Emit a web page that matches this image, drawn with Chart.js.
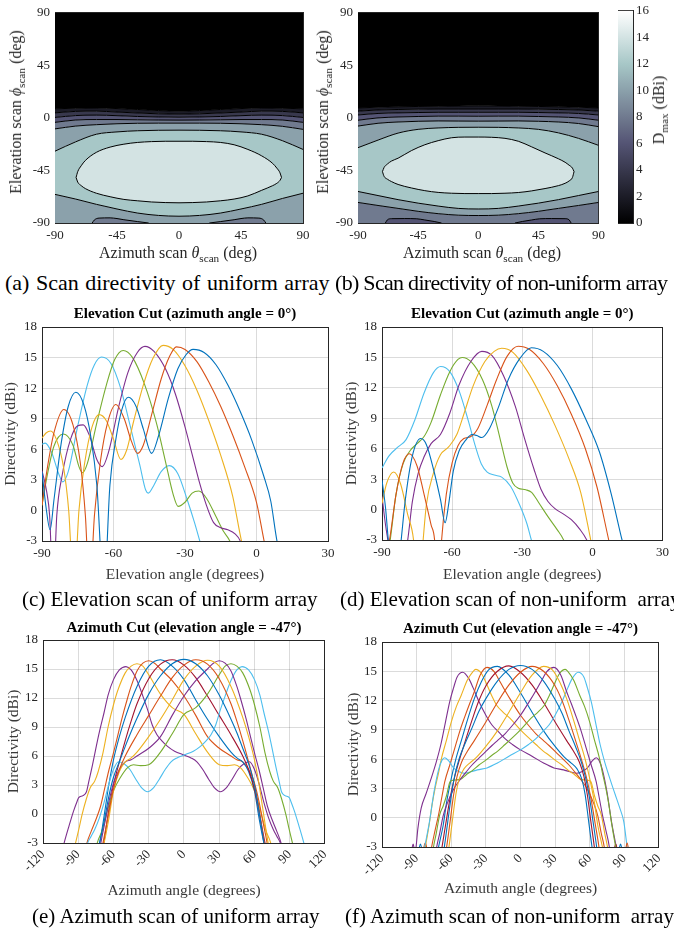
<!DOCTYPE html>
<html><head><meta charset="utf-8">
<script src="https://cdn.jsdelivr.net/npm/chart.js@4.4.1/dist/chart.umd.min.js"></script>
<style>
html,body{margin:0;padding:0;background:#fff;}
#page{position:relative;width:674px;height:933px;overflow:hidden;font-family:'Liberation Serif','Times New Roman',serif;color:#000;}
canvas{position:absolute;}
.t{position:absolute;white-space:pre;line-height:1;}
.rot{transform:translate(-50%,-50%) rotate(-90deg);}
.ctr{transform:translate(-50%,-50%);}
.ax{font-size:16px;color:#262626;}
sub{font-size:70%;vertical-align:-0.35em;line-height:0;}
</style></head><body><div id="page">
<canvas id="ca" width="340" height="270" style="left:0;top:0"></canvas>
<canvas id="cb" width="310" height="270" style="left:300px;top:0"></canvas>
<canvas id="cbar" width="64" height="270" style="left:610px;top:0"></canvas>
<canvas id="cc" width="340" height="290" style="left:0;top:300px"></canvas>
<canvas id="cd" width="334" height="290" style="left:340px;top:300px"></canvas>
<canvas id="ce" width="340" height="300" style="left:0;top:615px"></canvas>
<canvas id="cf" width="334" height="300" style="left:340px;top:615px"></canvas>

<div class="t ax rot" style="left:16px;top:112px">Elevation scan <i>ϕ</i><sub>scan</sub> (deg)</div>
<div class="t ax ctr" style="left:178px;top:253px">Azimuth scan <i>θ</i><sub>scan</sub> (deg)</div>
<div class="t ax rot" style="left:323px;top:112px">Elevation scan <i>ϕ</i><sub>scan</sub> (deg)</div>
<div class="t ax ctr" style="left:482px;top:253px">Azimuth scan <i>θ</i><sub>scan</sub> (deg)</div>
<div class="t ax rot" style="left:659px;top:110px">D<sub>max</sub> (dBi)</div>

<div class="t" style="left:5px;top:272px;font-size:22px;word-spacing:1px">(a) Scan directivity of uniform array</div>
<div class="t" style="left:335px;top:272px;font-size:22px;letter-spacing:-0.7px">(b) Scan directivity of non-uniform array</div>
<div class="t" style="left:22px;top:589px;font-size:21px">(c) Elevation scan of uniform array</div>
<div class="t" style="left:340px;top:589px;font-size:21px">(d) Elevation scan of non-uniform  array</div>
<div class="t" style="left:32px;top:906px;font-size:21px">(e) Azimuth scan of uniform array</div>
<div class="t" style="left:345px;top:906px;font-size:21px">(f) Azimuth scan of non-uniform  array</div>
</div>
<script>
// ---------- contour data (panels a, b): level boundaries in elevation (deg) at each azimuth ----------
const contourAz = [-90,-75,-60,-45,-30,-15,0,15,30,45,60,75,90];
const aUp2  = [7.8, 8.3, 8.5, 8.0, 7.2, 6.3, 5.8, 6.3, 7.2, 8.0, 8.5, 8.3, 7.8];
const aUp4  = [4.3, 5.6, 5.8, 5.0, 4.2, 3.5, 3.2, 3.5, 4.2, 5.0, 5.8, 5.6, 4.3];
const aUp6  = [0.4, 2.0, 2.4, 1.9, 1.2, 0.8, 0.6, 0.8, 1.2, 1.9, 2.4, 2.0, 0.4];
const aUp8  = [-3.8, -1.8, -1.4, -1.4, -1.6, -1.8, -1.9, -1.8, -1.6, -1.4, -1.4, -1.8, -3.8];
const aUp10 = [-9.4, -7.0, -5.8, -5.0, -4.6, -4.5, -4.5, -4.5, -4.6, -5.0, -5.8, -7.2, -9.8];
const aUp12 = [-28.5, -20.5, -14.0, -12.0, -11.0, -10.6, -10.5, -10.6, -11.0, -12.0, -14.0, -19.5, -27.0];
const aLow12 = [-65.5, -69.5, -74, -78, -81.5, -83.5, -84.2, -83.5, -81.5, -78, -74, -69, -64.5];
const aEllAz  = [-74.7,-73.5,-71,-68,-60,-50,-40,-30,-20,-10,0,10,20,30,40,50,60,68,71,73.3,74.4];
const aEllTop = [-51,-46,-41,-36.5,-29.5,-25,-22.5,-21,-20.3,-20,-20,-20,-20.3,-21,-23,-27,-32.5,-39,-43,-47,-51];
const aEllBot = [-51,-55,-58,-60.5,-64.5,-67.5,-69.8,-71,-72,-72.5,-72.7,-72.5,-72,-71,-69.5,-66.8,-62,-58,-56,-53.5,-51];
const aBumpL = [[-63,-90],[-61.5,-87.5],[-58,-85.8],[-50,-85.6],[-45,-86.2],[-40,-87.2],[-30,-88.8],[-22,-90]];
const aBumpR = [[22,-90],[30,-88.8],[40,-87.2],[45,-86.2],[50,-85.6],[58,-85.8],[61.5,-87.5],[63,-90]];

const bUp2  = [8.5, 9.2, 9.5, 9.8, 10.0, 10.2, 10.3, 10.2, 10.0, 9.8, 9.5, 9.2, 8.5];
const bUp4  = [5.8, 6.8, 7.2, 7.5, 7.6, 7.6, 7.6, 7.6, 7.6, 7.5, 7.2, 6.8, 5.8];
const bUp6  = [2.5, 3.8, 4.3, 4.6, 4.8, 4.8, 4.8, 4.8, 4.8, 4.6, 4.3, 3.8, 2.5];
const bUp8  = [-2.0, 0.0, 0.8, 1.2, 1.5, 1.5, 1.4, 1.5, 1.5, 1.2, 0.8, 0.0, -2.0];
const bUp10 = [-7.0, -4.6, -3.5, -2.9, -2.6, -2.7, -2.8, -2.7, -2.6, -2.9, -3.5, -4.8, -7.5];
const bUp12 = [-25.5, -19, -13, -9.8, -8.6, -8.1, -8.0, -8.1, -8.6, -9.8, -12.8, -17.5, -23.5];
const bLow12 = [-63, -66.5, -70, -73, -75.5, -77.5, -78, -77.5, -75.5, -73, -70, -66.5, -63];
const bLow10 = [-72.4, -75, -77.5, -80, -82, -83.3, -83.6, -83.3, -82, -80, -77.5, -75, -72.4];
const bEllAz  = [-71.7,-70.5,-68,-65,-60,-50,-40,-30,-20,-10,0,10,20,30,40,50,60,65,68,70.5,71.7];
const bEllTop = [-46,-42.5,-39.5,-37,-34.5,-28,-23,-19.5,-17,-16.4,-16.4,-16.6,-17.5,-20,-24.8,-30,-35,-38,-40.5,-43,-46];
const bEllBot = [-46,-50,-52.5,-54.5,-57,-60,-62.3,-63.8,-64.5,-64.8,-64.8,-64.8,-64.5,-63.9,-62.5,-60.5,-58,-56,-54,-51,-46];
const bBumpL = [[-69.5,-90],[-68,-87.3],[-65,-86.3],[-55,-86.2],[-46,-86.4],[-40,-87.4],[-33,-88.7],[-27.5,-90]];
const bBumpR = [[27.5,-90],[33,-88.7],[40,-87.4],[46,-86.4],[55,-86.2],[65,-86.3],[68,-87.3],[69.5,-90]];
const cbarRange = [0, 16];

// ---------- elevation cuts (c, d): [elevation deg, directivity dBi] ----------
const cBlue = [[-90,3.8],[-88.3,0.3],[-86.6,-1.9],[-85,1.0],[-82,6.5],[-79,10.2],[-75.8,11.6],[-72.5,10.4],[-69.5,7.2],[-67,2.5],[-64,-8],[-61.5,2.5],[-59,7.0],[-56.5,9.9],[-53.8,11.1],[-50.5,10.2],[-47.5,8.0],[-44,5.6],[-41,7.4],[-37,11.0],[-33,13.9],[-29.5,15.3],[-26.6,15.8],[-22,15.5],[-17,14.3],[-12,12.3],[-7,9.8],[-2,6.9],[3,3.4],[6,0.9],[8.6,-3],[11,-5]];
const cOrange = [[-90,0.5],[-88,3.8],[-85,7.6],[-80.8,9.9],[-77,8.4],[-74,4.8],[-71.8,-0.5],[-70,-8],[-68,-0.5],[-65.5,4.8],[-62.5,8.6],[-59,10.4],[-55.5,9.0],[-52.5,6.8],[-49.9,5.6],[-47.5,6.4],[-44,9.4],[-40,12.9],[-36.5,15.1],[-33.6,16.05],[-30,15.8],[-25,14.6],[-20,12.6],[-15,10.2],[-10,7.4],[-5,4.3],[0,0.8],[3.2,-3],[5,-5]];
const cYellow = [[-90,7.1],[-88.3,7.6],[-86.4,7.8],[-84,7.0],[-81,4.3],[-78.8,0],[-76.6,-8],[-74.5,0],[-72,4.8],[-69,8.2],[-66,9.4],[-63,8.8],[-60,7.0],[-56.9,5.0],[-54.5,5.9],[-51.5,8.8],[-47.5,12.3],[-43.5,14.9],[-39.2,16.2],[-35,15.8],[-30,14.2],[-25,11.8],[-20,8.8],[-15,5.4],[-10,1.4],[-6.3,-3],[-4,-5]];
const cPurple = [[-90,3.9],[-88,1.8],[-86.8,-0.5],[-85.3,-8],[-83.8,-0.5],[-81.5,3.5],[-78,7.0],[-75,8.3],[-72.7,8.4],[-70,7.3],[-67,5.0],[-64.7,4.3],[-62,5.8],[-58,10.0],[-54,13.5],[-50,15.5],[-46.8,16.1],[-43,15.6],[-38,13.8],[-34,11.4],[-30,8.2],[-27,5.5],[-24,2.8],[-21,0.5],[-18,-1.2],[-15,-1.7],[-12,-1.9],[-9,-2.3],[-6.8,-3],[-5,-4.5]];
const cGreen = [[-90,0.5],[-88,3.2],[-85,6.3],[-81,7.5],[-77,6.4],[-74.5,4.3],[-73,3.7],[-71,4.6],[-67,8.6],[-63,12.3],[-59.5,14.8],[-55.9,15.7],[-52,15.0],[-47,12.4],[-42,8.6],[-38,4.6],[-35,1.6],[-32.9,0.4],[-30,0.8],[-27,1.7],[-24.2,1.9],[-21,1.2],[-17,-0.6],[-14,-2.0],[-11.2,-3],[-9,-4.5]];
const cCyan = [[-90,6.5],[-88.7,6.6],[-86,5.7],[-83,3.6],[-81.3,2.8],[-79,3.8],[-75,8.3],[-71,12.3],[-68,14.3],[-65,15.05],[-61,14.4],[-57,12.0],[-53,8.3],[-49,4.5],[-46.5,2.0],[-45.4,1.7],[-43,2.5],[-40,3.8],[-36.6,4.4],[-33,3.6],[-29,1.0],[-26,-1.2],[-23.8,-3],[-22,-4.5]];

const dBlue = [[-90,2.9],[-88.5,0.2],[-87.3,-3],[-84.5,-9],[-81.8,-3],[-80,1.0],[-77,5.3],[-73.4,7.0],[-71,6.4],[-68,4.0],[-65,1.0],[-63,-1.3],[-61.5,0.5],[-59.5,3.8],[-57,5.8],[-54,6.9],[-51.5,7.4],[-49.5,7.3],[-47.3,7.1],[-44,8.0],[-40,10.2],[-36,12.8],[-31,14.9],[-26.1,15.95],[-21,15.6],[-15,14.2],[-9,11.9],[-3,9.0],[3,5.7],[8,1.6],[12.7,-3],[15,-5]];
const dOrange = [[-90,-6],[-86.8,-3],[-84,1.5],[-81,4.6],[-78.3,5.5],[-75,4.3],[-72,1.5],[-69,-1.5],[-67.5,-3],[-66,-9],[-64.5,-3],[-62.5,1.5],[-60,4.6],[-57.5,6.3],[-55,7.0],[-52,7.2],[-49,8.0],[-45,10.3],[-41,12.8],[-36.5,15.1],[-31.8,16.1],[-27,15.8],[-21,14.4],[-15,12.2],[-9,9.4],[-3,6.0],[2,2.2],[7,-3],[9,-5]];
const dYellow = [[-90,0.6],[-88,2.6],[-85,3.7],[-82,2.5],[-79,-0.5],[-76.5,-3],[-74.5,-9],[-72.4,-3],[-71,0.5],[-68,3.6],[-65,5.4],[-61.4,6.2],[-58,7.4],[-55,9.4],[-51,12.2],[-46,14.6],[-42,15.6],[-38.8,15.9],[-34,15.5],[-28,13.7],[-22,11.2],[-16,8.3],[-10,5.0],[-5,1.7],[-0.7,-3],[1,-5]];
const dPurple = [[-90,1.3],[-88.5,-1.5],[-87.5,-3],[-84,-9],[-79,-3],[-77,0.8],[-74.5,3.6],[-72,5.2],[-69,6.5],[-65,7.4],[-61,9.5],[-57,12.3],[-52,14.6],[-47.3,15.6],[-43,15.2],[-38,13.2],[-33,10.2],[-29,7.0],[-25,4.0],[-22,2.0],[-19,0.8],[-16,0.1],[-12,-0.5],[-9,-1.0],[-5.5,-1.9],[-2.4,-3],[0,-4.5]];
const dGreen = [[-88,-5],[-86.5,-3],[-84,1.5],[-81,4.5],[-78,5.8],[-75,6.5],[-72,7.2],[-69,8.6],[-65,11.3],[-61,13.6],[-57.5,14.8],[-55.7,15.0],[-52,14.6],[-47,12.8],[-43,10.2],[-39.5,7.0],[-36.5,4.2],[-34,2.6],[-31.7,2.1],[-28.5,1.95],[-26,1.7],[-23,0.7],[-19,-0.7],[-15,-2.0],[-12.3,-3],[-10,-4.5]];
const dCyan = [[-90,4.1],[-87,5.3],[-83,6.2],[-79.7,6.9],[-76,8.8],[-72,11.5],[-68,13.5],[-64.9,14.1],[-61,13.6],[-57,11.7],[-53,8.7],[-50,6.2],[-47.5,4.5],[-45,3.7],[-42,3.4],[-38.8,3.2],[-35,2.3],[-31,0.4],[-28,-1.4],[-26.1,-3],[-24,-4.5]];

// ---------- azimuth cuts (e, f): [azimuth deg, directivity dBi], one per scan angle ----------
const eP0 = [[-76,-5],[-72,-3],[-68,-0.8],[-64,1.8],[-60,3.8],[-55,5.4],[-50,7.0],[-45,8.5],[-40,9.9],[-30,12.4],[-20,14.3],[-10,15.55],[0,16.0],[10,15.55],[20,14.3],[30,12.3],[40,9.8],[45,8.4],[50,6.8],[55,5.2],[60,3.0],[64,0.2],[67,-2.2],[70,-4.5]];
const eP10 = [[-73,-5],[-69,-3],[-65,-0.5],[-60,2.6],[-55,4.6],[-50,6.0],[-40,8.2],[-30,10.2],[-20,12.2],[-10,14.1],[0,15.4],[10,15.95],[20,15.5],[30,14.0],[40,11.4],[45,9.6],[50,7.6],[55,5.4],[60,3.0],[64,0.4],[67,-2],[70,-4.5]];
const eP20 = [[-72,-5],[-68,-3],[-64,-0.5],[-60,2.4],[-55,4.4],[-50,5.4],[-45,5.8],[-40,6.4],[-30,8.0],[-20,9.8],[-10,11.8],[0,13.9],[10,15.3],[20,15.9],[30,15.3],[40,13.2],[50,10.0],[55,8.0],[60,5.6],[64,3.0],[67,0.6],[70,-1.8],[73,-4],[75,-5.5]];
const eP30 = [[-73,-4.5],[-70,-2.5],[-67,-0.7],[-64,1.2],[-60,3.2],[-55,4.6],[-50,5.4],[-45,5.6],[-40,6.0],[-30,6.8],[-20,8.0],[-10,10.2],[0,12.2],[10,13.8],[20,15.0],[25,15.6],[30,15.85],[35,15.6],[40,14.8],[45,13.2],[48,12.0],[53,9.8],[57,7.8],[60.5,6.1],[64,4.5],[67.4,2.7],[71,0.8],[75.7,-0.8],[79,-1.8],[82.6,-3],[86,-5]];
const eP40 = [[-76,-4.5],[-73.8,-3],[-70,-1.8],[-65,0.4],[-60,2.4],[-54,3.8],[-48,4.8],[-43,5.1],[-37,5.0],[-30,5.1],[-20,6.4],[-10,8.3],[0,10.3],[10,11.0],[20,12.4],[30,14.4],[35,15.3],[40,15.55],[45,15.3],[50,14.6],[56.3,12.8],[60,11.3],[64.6,9.0],[69,6.3],[73,4.4],[76,3.4],[79.9,2.7],[83,1.6],[86.8,-0.1],[89,-1.3],[92.3,-3],[96,-5]];
const eP50 = [[-85,-4.5],[-82,-3],[-79,-2.3],[-76,-1.6],[-72,-0.4],[-68,1.2],[-64,3.1],[-60,4.6],[-55.8,5.4],[-51,5.2],[-46,4.6],[-41,3.6],[-36,2.7],[-31,2.3],[-26,2.7],[-21,3.6],[-16,4.6],[-11,5.4],[-6,5.8],[0,6.1],[8,6.5],[14,7.0],[19,7.6],[23,8.2],[27,9.2],[31,10.8],[35,12.2],[40,13.8],[45,14.9],[49.4,15.25],[55,14.9],[60,13.9],[64.6,12.3],[68,10.5],[72,8.5],[75,6.8],[78,5.0],[81.3,3.2],[83,2.3],[86,1.9],[89.6,1.7],[91,1.3],[94,0.3],[98,-1.3],[102,-3],[106,-5]];
const eM10 = [[-70,-4.5],[-67,-2],[-64,0.4],[-60,3.0],[-55,5.4],[-50,7.6],[-45,9.6],[-40,11.4],[-30,14.0],[-20,15.5],[-10,15.95],[0,15.4],[10,14.1],[20,12.2],[30,10.2],[40,8.2],[50,6.0],[55,4.6],[60,2.6],[65,-0.5],[69,-3],[73,-5]];
const eM20 = [[-75,-5.5],[-73,-4],[-70,-1.8],[-67,0.6],[-64,3.0],[-60,5.6],[-55,8.0],[-50,10.0],[-40,13.2],[-30,15.3],[-20,15.95],[-10,15.3],[0,13.9],[10,11.8],[20,9.8],[30,8.0],[40,6.4],[45,5.8],[50,5.4],[55,4.4],[60,2.4],[64,-0.5],[68,-3],[72,-5]];
const eM30 = [[-86,-5],[-82.6,-3],[-79,-1.8],[-75.7,-0.8],[-71,0.8],[-67.4,2.7],[-64,4.5],[-60.5,6.1],[-57,7.8],[-53,9.8],[-48,12.0],[-45,13.2],[-40,14.8],[-35,15.6],[-30,15.85],[-25,15.6],[-20,15.0],[-10,13.8],[0,12.2],[10,10.2],[20,8.0],[30,6.8],[40,6.0],[45,5.6],[50,5.4],[55,4.6],[60,3.2],[64,1.2],[67,-0.7],[70,-2.5],[73,-4.5]];
const eM40 = [[-96,-5],[-92.3,-3],[-89,-1.3],[-86.8,-0.1],[-83,1.6],[-79.9,2.7],[-76,3.4],[-73,4.4],[-69,6.3],[-64.6,9.0],[-60,11.3],[-56.3,12.8],[-50,14.6],[-45,15.3],[-40,15.55],[-35,15.3],[-30,14.4],[-20,12.4],[-10,11.0],[0,10.3],[10,8.3],[20,6.4],[30,5.1],[37,5.0],[43,5.1],[48,4.8],[54,3.8],[60,2.4],[65,0.4],[70,-1.8],[73.8,-3],[76,-4.5]];
const eM50 = [[-106,-5],[-102,-3],[-98,-1.3],[-94,0.3],[-91,1.3],[-89.6,1.7],[-86,1.9],[-83,2.3],[-81.3,3.2],[-78,5.0],[-75,6.8],[-72,8.5],[-68,10.5],[-64.6,12.3],[-60,13.9],[-55,14.9],[-49.4,15.25],[-45,14.9],[-40,13.8],[-35,12.2],[-31,10.8],[-27,9.2],[-23,8.2],[-19,7.6],[-14,7.0],[-8,6.5],[0,6.1],[6,5.8],[11,5.4],[16,4.6],[21,3.6],[26,2.7],[31,2.3],[36,2.7],[41,3.6],[46,4.6],[51,5.2],[55.8,5.4],[60,4.6],[64,3.1],[68,1.2],[72,-0.4],[76,-1.6],[79,-2.3],[82,-3],[85,-4.5]];

const fP0 = [[-69,-5],[-66,-3],[-63,-0.4],[-60,2.2],[-57,4.3],[-53,6.1],[-48,7.6],[-42,9.2],[-36,10.9],[-30,12.2],[-20,14.0],[-10,15.2],[0,15.6],[10,15.2],[20,14.0],[30,12.1],[36,10.7],[42,8.9],[48,7.2],[53,5.6],[57,3.8],[60,1.9],[63,-0.5],[66,-3],[69,-6],[78,-9],[85.3,-3.4],[86.7,-2.7],[88.1,-3.4],[91,-6]];
const fP10 = [[-67,-5],[-64,-3],[-61,-0.4],[-58,2.3],[-55,4.2],[-51,5.7],[-46,6.8],[-40,7.9],[-30,9.8],[-20,11.8],[-10,13.6],[0,14.9],[10,15.5],[20,15.0],[30,13.5],[36,12.0],[42,10.0],[48,7.8],[53,5.9],[57,4.2],[61,2.0],[65,-0.8],[68,-3],[71,-6],[84,-9],[91,-3.4],[92.4,-2.6],[93.8,-3.4],[96,-6]];
const fP20 = [[-65,-5],[-62,-3],[-59,-0.3],[-56,2.4],[-53,4.0],[-49,5.0],[-44,5.6],[-38,6.2],[-30,7.3],[-20,8.9],[-10,10.8],[0,12.8],[10,14.6],[20,15.5],[28,15.1],[34,13.9],[40,12.2],[46,10.0],[51,8.0],[56,6.0],[60,4.0],[64,1.6],[67,-0.8],[71,-3],[74,-5]];
const fP30 = [[-75,-5],[-72.6,-3],[-70,-1.6],[-67,0.2],[-63,1.6],[-58.5,2.8],[-53,3.8],[-47,4.7],[-42,5.4],[-36,6.1],[-30,6.8],[-24.7,7.4],[-20,7.9],[-13.4,8.6],[-6,9.6],[0,10.5],[9.2,12.2],[17.6,13.9],[23,15.0],[29,15.4],[35,14.6],[40,12.9],[44,11.7],[48.7,10.2],[52.5,8.9],[57,7.1],[61,5.5],[65.6,3.7],[68,2.2],[71,0.3],[74,-1.3],[77,-3],[80,-6]];
const fP40 = [[-78,-5],[-75.4,-3],[-73,-1.6],[-70,0.3],[-67,1.2],[-64,2.3],[-61,3.7],[-58,3.85],[-54,3.9],[-51,4.0],[-47,4.4],[-42,4.8],[-36,5.4],[-30,5.9],[-24.7,6.4],[-20,6.8],[-13.4,7.5],[-6,8.3],[0,9.0],[9.2,10.2],[15,10.8],[20.5,11.5],[24.5,12.4],[29,13.6],[34,14.8],[38.8,15.2],[41,15.0],[46,14.1],[51.5,12.5],[55.5,11.4],[60,9.8],[64,8.0],[68.4,6.1],[71,4.6],[74,3.0],[76.5,1.4],[79,-0.6],[82.5,-3],[86,-5]];
const fP50 = [[-86,-5],[-83,-3],[-79,-0.5],[-75,2.6],[-71,4.9],[-68,5.9],[-65.6,6.15],[-62,5.8],[-58,5.1],[-53,4.7],[-48.7,4.55],[-43,4.7],[-37.4,4.9],[-29,5.1],[-20,5.6],[-10,6.3],[0,6.95],[7,7.5],[13.4,8.1],[19,8.8],[24.7,9.5],[30,10.5],[36,11.9],[41,13.3],[45,14.3],[50,14.9],[55,14.4],[58,13.3],[61.3,11.9],[65,9.8],[69,7.5],[73,5.7],[78.3,3.7],[82,2.4],[86,1.0],[89.5,-0.4],[92.4,-3],[95,-5]];
const fM10 = [[-71,-5],[-68,-3],[-65,-0.8],[-61,2.0],[-57,4.2],[-53,5.9],[-48,7.8],[-42,10.0],[-36,12.0],[-30,13.5],[-20,15.0],[-10,15.55],[0,14.9],[10,13.6],[20,11.8],[30,9.8],[40,7.9],[46,6.8],[51,5.7],[55,4.2],[58,2.3],[61,-0.4],[64,-3],[67,-6],[76,-9],[81.1,-3.4],[82.5,-2.7],[83.9,-3.4],[86,-6]];
const fM20 = [[-92,-6],[-88.1,-3.4],[-86.7,-2.7],[-85.3,-3.4],[-80,-9],[-74,-5],[-71,-3],[-67,-0.8],[-64,1.6],[-60,4.0],[-56,6.0],[-51,8.0],[-46,10.0],[-40,12.2],[-34,13.9],[-28,15.1],[-20,15.5],[-10,14.6],[0,12.8],[10,10.8],[20,8.9],[30,7.3],[38,6.2],[44,5.6],[49,5.0],[53,4.0],[56,2.4],[59,-0.3],[62,-3],[65,-5]];
const fM30 = [[-86,-6],[-84,-3.3],[-82.5,-2.6],[-81,-3.3],[-79.5,-5],[-77,-3],[-74,-1.3],[-71,0.3],[-68,2.2],[-65.6,3.7],[-61,5.5],[-57,7.1],[-52.5,8.9],[-48.7,10.2],[-44,11.7],[-40,12.9],[-35,14.6],[-29,15.4],[-23,15.0],[-17.6,13.9],[-9.2,12.2],[0,10.5],[6,9.6],[13.4,8.6],[20,7.9],[24.7,7.4],[30,6.8],[36,6.1],[42,5.4],[47,4.7],[53,3.8],[58.5,2.8],[63,1.6],[67,0.2],[70,-1.6],[72.6,-3],[75,-5]];
const fM40 = [[-86,-5],[-82.5,-3],[-79,-0.6],[-76.5,1.4],[-74,3.0],[-71,4.6],[-68.4,6.1],[-64,8.0],[-60,9.8],[-55.5,11.4],[-51.5,12.5],[-46,14.1],[-41,15.0],[-38.8,15.2],[-34,14.8],[-29,13.6],[-24.5,12.4],[-20.5,11.5],[-15,10.8],[-9.2,10.2],[0,9.0],[6,8.3],[13.4,7.5],[20,6.8],[24.7,6.4],[30,5.9],[36,5.4],[42,4.8],[47,4.4],[51,4.0],[54,3.9],[58,3.85],[61,3.7],[64,2.3],[67,1.2],[70,0.3],[73,-1.6],[75.4,-3],[78,-5]];
const fM50 = [[-98,-6],[-94.5,-3.5],[-93,-2.7],[-91.5,-3.5],[-90.5,-3],[-89,-1.2],[-86,1.0],[-82,2.4],[-78.3,3.7],[-73,5.7],[-69,7.5],[-65,9.8],[-61.3,11.9],[-58,13.3],[-55,14.4],[-50,14.9],[-45,14.3],[-41,13.3],[-36,11.9],[-30,10.5],[-24.7,9.5],[-19,8.8],[-13.4,8.1],[-7,7.5],[0,6.95],[10,6.3],[20,5.6],[29,5.1],[37.4,4.9],[43,4.7],[48.7,4.55],[53,4.7],[58,5.1],[62,5.8],[65.6,6.15],[68,5.9],[71,4.9],[75,2.6],[79,-0.5],[83,-3],[86,-5]];

// ---------- styling ----------
const COL = {blue:'#0072BD', orange:'#D95319', yellow:'#EDB120', purple:'#7E2F8E', green:'#77AC30', cyan:'#4DBEEE', red:'#A2142F'};
const AX = '#262626';
const GRID = 'rgba(0,0,0,0.14)';
Chart.defaults.font.family = "'Liberation Serif','Times New Roman',serif";
Chart.defaults.color = AX;

function bone(t){
  const hr = Math.min(1, t/0.375), hg = Math.min(1, Math.max(0,(t-0.375)/0.375)), hb = Math.min(1, Math.max(0,(t-0.75)/0.25));
  const r=(7*t+hb)/8, g=(7*t+hg)/8, b=(7*t+hr)/8;
  return 'rgb('+Math.round(r*255)+','+Math.round(g*255)+','+Math.round(b*255)+')';
}
const lev = l => bone(l/16);

function grid2pts(xs, ys){ return xs.map((x,i)=>({x:x, y:ys[i]})); }
function pairs(arr){ return arr.map(p=>({x:p[0], y:p[1]})); }

function boxAxes(xmin,xmax,ymin,ymax){
  return {
    xTop:{type:'linear',position:'top',min:xmin,max:xmax,ticks:{display:false},grid:{display:false,drawTicks:false},border:{display:true,color:AX,width:1},afterFit:s=>{s.height=0;}},
    yRight:{type:'linear',position:'right',min:ymin,max:ymax,ticks:{display:false},grid:{display:false,drawTicks:false},border:{display:true,color:AX,width:1},afterFit:s=>{s.width=0;}}
  };
}

function contourChart(id, padR, yW, layers){
  const datasets = layers.map(L => ({
    data: L.pts, borderColor: L.line ? '#000' : 'rgba(0,0,0,0)', borderWidth: L.line ? 1 : 0,
    backgroundColor: L.color || 'rgba(0,0,0,0)', fill: L.fill === undefined ? false : L.fill,
    pointRadius: 0, cubicInterpolationMode: 'monotone', order: L.order
  }));
  new Chart(document.getElementById(id), {
    type: 'line',
    data: {datasets},
    options: {
      responsive:false, animation:false, events:[],
      layout:{padding:{left:0,right:padR,top:8,bottom:0}},
      plugins:{legend:{display:false}, tooltip:{enabled:false}, filler:{drawTime:'beforeDatasetsDraw'}},
      scales:{
        x:{type:'linear',min:-90,max:90,ticks:{stepSize:45,font:{size:13},padding:5,color:AX},grid:{display:false,drawTicks:false},border:{color:AX},afterFit:s=>{s.height=47;}},
        y:{type:'linear',min:-90,max:90,ticks:{stepSize:45,font:{size:13},padding:5,color:AX},grid:{display:false,drawTicks:false},border:{color:AX},afterFit:s=>{s.width=yW;}},
        ...boxAxes(-90,90,-90,90)
      }
    }
  });
}

// panel (a)
contourChart('ca', 37, 55, [
  {pts:grid2pts(contourAz,aLow12), fill:'start', color:lev(10), order:20},
  {pts:grid2pts(contourAz,aUp2),  fill:'end', color:lev(0), line:true, order:19},
  {pts:grid2pts(contourAz,aUp4),  fill:1, color:lev(2), line:true, order:18},
  {pts:grid2pts(contourAz,aUp6),  fill:2, color:lev(4), line:true, order:17},
  {pts:grid2pts(contourAz,aUp8),  fill:3, color:lev(6), line:true, order:16},
  {pts:grid2pts(contourAz,aUp10), fill:4, color:lev(8), line:true, order:15},
  {pts:grid2pts(contourAz,aUp12), fill:5, color:lev(10), line:true, order:14},
  {pts:grid2pts(contourAz,aLow12), fill:6, color:lev(12), line:true, order:13},
  {pts:grid2pts(aEllAz,aEllTop), fill:9, color:lev(14), line:true, order:3},
  {pts:grid2pts(aEllAz,aEllBot), line:true, order:3},
  {pts:pairs(aBumpL), fill:'start', color:lev(8), line:true, order:2},
  {pts:pairs(aBumpR), fill:'start', color:lev(8), line:true, order:2}
]);
// panel (b)
contourChart('cb', 6, 58, [
  {pts:grid2pts(contourAz,bLow10), fill:'start', color:lev(8), order:20},
  {pts:grid2pts(contourAz,bUp2),  fill:'end', color:lev(0), line:true, order:19},
  {pts:grid2pts(contourAz,bUp4),  fill:1, color:lev(2), line:true, order:18},
  {pts:grid2pts(contourAz,bUp6),  fill:2, color:lev(4), line:true, order:17},
  {pts:grid2pts(contourAz,bUp8),  fill:3, color:lev(6), line:true, order:16},
  {pts:grid2pts(contourAz,bUp10), fill:4, color:lev(8), line:true, order:15},
  {pts:grid2pts(contourAz,bUp12), fill:5, color:lev(10), line:true, order:14},
  {pts:grid2pts(contourAz,bLow12), fill:6, color:lev(12), line:true, order:13},
  {pts:grid2pts(contourAz,bLow10), fill:7, color:lev(10), line:true, order:12},
  {pts:grid2pts(bEllAz,bEllTop), fill:10, color:lev(14), line:true, order:3},
  {pts:grid2pts(bEllAz,bEllBot), line:true, order:3},
  {pts:pairs(bBumpL), fill:'start', color:lev(6), line:true, order:2},
  {pts:pairs(bBumpR), fill:'start', color:lev(6), line:true, order:2}
]);

// colorbar
new Chart(document.getElementById('cbar'), {
  type:'bar',
  data:{labels:[''], datasets:[{data:[cbarRange], borderWidth:0, barPercentage:1, categoryPercentage:1,
    backgroundColor: c => {
      const ch = c.chart, a = ch.chartArea; if (!a) return '#000';
      const g = ch.ctx.createLinearGradient(0, a.bottom, 0, a.top);
      for (let i=0;i<=32;i++) g.addColorStop(i/32, bone(i/32));
      return g;
    }}]},
  options:{responsive:false, animation:false, events:[],
    layout:{padding:{left:8,top:8,bottom:47,right:0}},
    plugins:{legend:{display:false}, tooltip:{enabled:false}},
    scales:{
      x:{ticks:{display:false},grid:{display:false,drawTicks:false},border:{color:AX},afterFit:s=>{s.height=0;}},
      x2:{type:'category',position:'top',ticks:{display:false},grid:{display:false,drawTicks:false},border:{color:AX},afterFit:s=>{s.height=0;}},
      y:{position:'right',min:0,max:16,ticks:{stepSize:2,font:{size:13},padding:3,color:AX},grid:{display:false,drawTicks:false},border:{color:AX},afterFit:s=>{s.width=41;}},
      y2:{type:'linear',position:'left',min:0,max:16,ticks:{display:false},grid:{display:false,drawTicks:false},border:{color:AX},afterFit:s=>{s.width=0;}}
    }}
});

function lineChart(id, cfg){
  new Chart(document.getElementById(id), {
    type:'line',
    data:{datasets: cfg.series.map(s=>({data:pairs(s[0]), borderColor:s[1], borderWidth:1.1, pointRadius:0, fill:false, cubicInterpolationMode:'monotone'}))},
    options:{responsive:false, animation:false, events:[],
      layout:{padding:{left:0,right:cfg.padR,top:0,bottom:0}},
      plugins:{legend:{display:false}, tooltip:{enabled:false},
        title:{display:true, text:cfg.title, color:'#000', font:{size:15, weight:'bold'}, padding:{top:cfg.tPad[0], bottom:cfg.tPad[1]}, fullSize:false}},
      scales:{
        x:{type:'linear',min:cfg.xMin,max:cfg.xMax,
           ticks:{stepSize:30,font:{size:13},padding:cfg.xTickPad,maxRotation:cfg.rot,minRotation:cfg.rot,autoSkip:false,color:AX},
           grid:{color:GRID,drawTicks:false},border:{color:AX},
           title:{display:true,text:cfg.xTitle,font:{size:15.5},color:'#3a3a3a',padding:{top:0,bottom:cfg.xtPadB}},
           afterFit:s=>{s.height=cfg.xH;}},
        y:{type:'linear',min:-3,max:18,ticks:{stepSize:3,font:{size:13},padding:5,color:AX},
           grid:{color:GRID,drawTicks:false},border:{color:AX},
           title:{display:true,text:'Directivity (dBi)',font:{size:15.5},color:'#3a3a3a',padding:{top:cfg.ytPadT,bottom:0}},
           afterFit:s=>{s.width=cfg.yW;}},
        ...boxAxes(cfg.xMin,cfg.xMax,-3,18)
      }}
  });
}

const elevTitle = 'Elevation Cut (azimuth angle = 0°)';
const azTitle = 'Azimuth Cut (elevation angle = -47°)';
lineChart('cc', {title:elevTitle, tPad:[5,4], xMin:-90, xMax:30, xTitle:'Elevation angle (degrees)', xTickPad:5, rot:0, xtPadB:6, ytPadT:2, yW:42, xH:49, padR:12,
  series:[[cBlue,COL.blue],[cOrange,COL.orange],[cYellow,COL.yellow],[cPurple,COL.purple],[cGreen,COL.green],[cCyan,COL.cyan]]});
lineChart('cd', {title:elevTitle, tPad:[5,4], xMin:-90, xMax:30, xTitle:'Elevation angle (degrees)', xTickPad:5, rot:0, xtPadB:6, ytPadT:3, yW:42, xH:50, padR:8,
  series:[[dBlue,COL.blue],[dOrange,COL.orange],[dYellow,COL.yellow],[dPurple,COL.purple],[dGreen,COL.green],[dCyan,COL.cyan]]});
lineChart('ce', {title:azTitle, tPad:[4,3], xMin:-120, xMax:120, xTitle:'Azimuth angle (degrees)', xTickPad:4, rot:45, xtPadB:15, ytPadT:5, yW:43, xH:72, padR:8,
  series:[[eP0,COL.blue],[eP10,COL.orange],[eP20,COL.yellow],[eP30,COL.purple],[eP40,COL.green],[eP50,COL.cyan],[eM10,COL.red],[eM20,COL.blue],[eM30,COL.orange],[eM40,COL.yellow],[eM50,COL.purple]]});
lineChart('cf', {title:azTitle, tPad:[5,4], xMin:-120, xMax:120, xTitle:'Azimuth angle (degrees)', xTickPad:4, rot:45, xtPadB:17, ytPadT:5, yW:42, xH:68, padR:8,
  series:[[fP0,COL.blue],[fP10,COL.orange],[fP20,COL.yellow],[fP30,COL.purple],[fP40,COL.green],[fP50,COL.cyan],[fM10,COL.red],[fM20,COL.blue],[fM30,COL.orange],[fM40,COL.yellow],[fM50,COL.purple]]});
</script>
</body></html>
